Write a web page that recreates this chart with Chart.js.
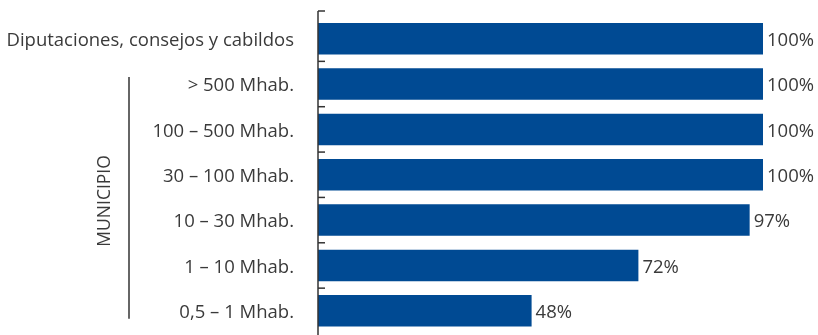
<!DOCTYPE html>
<html>
<head>
<meta charset="utf-8">
<script src="https://cdn.jsdelivr.net/npm/chart.js@4/dist/chart.umd.min.js"></script>
<style>
  html, body { margin: 0; padding: 0; background: #fff; }
  #wrap { width: 818px; height: 335px; position: relative; }
</style>
</head>
<body>
<div id="wrap"><canvas id="c"></canvas></div>
<script>
// Categories (top to bottom) and share of entities, in percent
const categories = [
  'Diputaciones, consejos y cabildos',
  '> 500 Mhab.',
  '100 – 500 Mhab.',
  '30 – 100 Mhab.',
  '10 – 30 Mhab.',
  '1 – 10 Mhab.',
  '0,5 – 1 Mhab.'
];
const values = [100, 100, 100, 100, 97, 72, 48];
const groupLabel = 'MUNICIPIO';
const groupFirst = 1;   // first category of the municipal group
const groupLast = 6;    // last category of the municipal group

const FONT = '"Open Sans", sans-serif';
const FONT_SIZE = 18.5;
const TEXT = '#3a3a3a';
const BLUE = '#004a93';

// Value labels, axis line with inward ticks, and the municipal bracket
const decorations = {
  id: 'decorations',
  afterDatasetsDraw(chart) {
    const { ctx, chartArea } = chart;
    const y = chart.scales.y;
    const x = chart.scales.x;
    const meta = chart.getDatasetMeta(0);

    ctx.save();
    const n = categories.length;
    const step = (y.getPixelForTick(n - 1) - y.getPixelForTick(0)) / (n - 1);
    const axisTop = chartArea.top - 5;

    // axis line
    ctx.strokeStyle = '#333';
    ctx.lineWidth = 1.5;
    ctx.beginPath();
    ctx.moveTo(x.left, axisTop);
    ctx.lineTo(x.left, chartArea.bottom + 5);
    ctx.stroke();
    // cap tick at the top, then ticks between categories, pointing into the plot
    const tickYs = [axisTop];
    for (let i = 1; i < n; i++) tickYs.push(y.getPixelForTick(0) - step / 2 + i * step);
    tickYs.forEach(ty => {
      ctx.beginPath();
      ctx.moveTo(x.left, ty);
      ctx.lineTo(x.left + 7, ty);
      ctx.stroke();
    });

    // value labels
    ctx.fillStyle = TEXT;
    ctx.font = FONT_SIZE + 'px ' + FONT;
    ctx.textAlign = 'left';
    ctx.textBaseline = 'middle';
    meta.data.forEach((bar, i) => {
      ctx.fillText(values[i] + '%', bar.x + 4, bar.y + 2);
    });

    // bracket line for the municipal group
    const top = y.getPixelForTick(groupFirst) - 7;
    const bottom = y.getPixelForTick(groupLast) + 8;
    ctx.strokeStyle = '#333';
    ctx.lineWidth = 1.5;
    ctx.beginPath();
    ctx.moveTo(129, top);
    ctx.lineTo(129, bottom);
    ctx.stroke();

    // rotated group label
    ctx.translate(105, (top + bottom) / 2 + 3);
    ctx.rotate(-Math.PI / 2);
    ctx.textAlign = 'center';
    ctx.textBaseline = 'middle';
    ctx.font = '17.5px ' + FONT;
    ctx.fillText(groupLabel, 0, 0);
    ctx.restore();
  }
};

new Chart(document.getElementById('c'), {
  type: 'bar',
  data: {
    labels: categories,
    datasets: [{
      data: values,
      backgroundColor: BLUE,
      borderWidth: 0,
      categoryPercentage: 1,
      barPercentage: 0.694
    }]
  },
  options: {
    indexAxis: 'y',
    responsive: true,
    maintainAspectRatio: false,
    animation: false,
    layout: { padding: { top: 16, right: 55, bottom: 1.5, left: 0 } },
    plugins: { legend: { display: false }, tooltip: { enabled: false } },
    scales: {
      x: { display: false, min: 0, max: 100 },
      y: {
        afterFit(scale) {
          scale.width = 318;
          scale.paddingTop = 0;
          scale.paddingBottom = 0;
        },
        border: { display: false },
        grid: { display: false },
        ticks: {
          color: TEXT,
          font: { family: FONT, size: FONT_SIZE },
          padding: 16,
          labelOffset: 2
        }
      }
    }
  },
  plugins: [decorations]
});
</script>
</body>
</html>
